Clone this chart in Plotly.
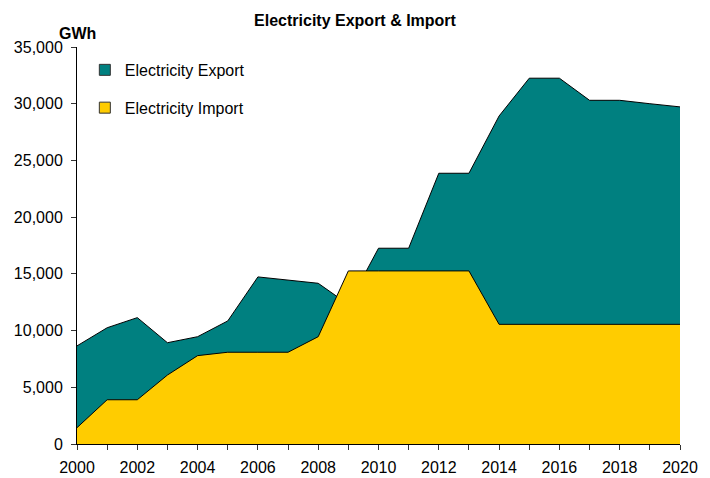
import plotly.graph_objects as go

years = list(range(2000, 2021))
export_gwh = [8650, 10250, 11140, 8930, 9460, 10850, 14730, 14460, 14170, 12300,
              17260, 17260, 23870, 23870, 28920, 32250, 32250, 30300, 30300, 30000, 29720]
import_gwh = [1440, 3900, 3900, 6080, 7790, 8090, 8090, 8090, 9460, 15260,
              15260, 15260, 15260, 15260, 10550, 10550, 10550, 10550, 10550, 10550, 10550]
series_names = ["Electricity Export", "Electricity Import"]
series_colors = ["#008080", "#FFCC00"]

FONT = "Liberation Sans, Arial, sans-serif"

fig = go.Figure()
for vals, name, col in zip([export_gwh, import_gwh], series_names, series_colors):
    fig.add_trace(go.Scatter(x=years, y=vals, name=name, mode="lines",
                             fill="tozeroy", fillcolor=col,
                             line=dict(color="#000000", width=1), showlegend=False))
# legend entries as small square swatches
for i, (name, col) in enumerate(zip(series_names, series_colors)):
    fig.add_trace(go.Scatter(x=[None], y=[None], name=name, mode="markers",
                             marker=dict(symbol="square", size=11, color=col,
                                         line=dict(color="#333333", width=1)),
                             legendgroup=f"g{i}", showlegend=True))

# page body has an 8px margin; plot area lands at x 77..680, y 47..444 of the page
W, H = 702, 470
fig.update_layout(
    width=W, height=H,
    margin=dict(l=69, r=30, t=39, b=34, autoexpand=False),
    paper_bgcolor="white", plot_bgcolor="white",
    font=dict(family=FONT, size=16, color="#000000"),
    title=dict(text="<b>Electricity Export & Import</b>", x=(355 - 8) / W, xanchor="center",
               y=1 - 12 / H, yanchor="middle", font=dict(size=16, family=FONT)),
    showlegend=True,
    legend=dict(x=0.013, y=0.985, xanchor="left", yanchor="top", bgcolor="rgba(0,0,0,0)",
                font=dict(size=16, family=FONT), tracegroupgap=14, traceorder="grouped"),
    xaxis=dict(range=[2000, 2020], dtick=2, tick0=2000, ticks="outside", ticklen=5,
               tickcolor="#333333", showline=True, linecolor="#000000", linewidth=1,
               showgrid=False, zeroline=False, tickfont=dict(size=16), automargin=False,
               ticklabelstandoff=4,
               minor=dict(dtick=1, tick0=2000, ticks="outside", ticklen=5, tickcolor="#333333",
                          showgrid=False)),
    yaxis=dict(range=[0, 35000], dtick=5000, tickformat=",", ticks="outside", ticklen=5,
               tickcolor="#333333", showline=True, linecolor="#000000", linewidth=1,
               showgrid=False, zeroline=False, tickfont=dict(size=16), automargin=False,
               ticklabelstandoff=5),
    annotations=[dict(text="<b>GWh</b>", xref="paper", yref="paper", x=0.0, y=(444 - 33) / 397,
                      xanchor="center", yanchor="middle", showarrow=False,
                      font=dict(size=16, family=FONT))],
)

fig.write_html("out.html")
